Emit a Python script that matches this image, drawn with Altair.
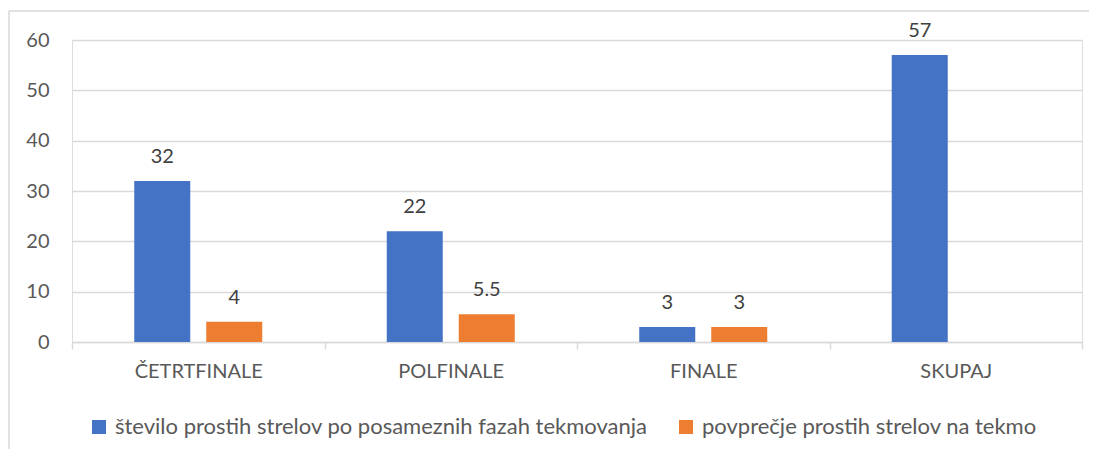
import altair as alt
import pandas as pd

categories = ["ČETRTFINALE", "POLFINALE", "FINALE", "SKUPAJ"]
series_names = [
    "število prostih strelov po posameznih fazah tekmovanja",
    "povprečje prostih strelov na tekmo",
]
series1 = [32, 22, 3, 57]
series2 = [4, 5.5, 3]
colors = ["#4472C4", "#ED7D31"]

rows = []
for c, v in zip(categories, series1):
    rows.append({"kat": c, "serija": series_names[0], "vrednost": v, "lbl": f"{v:g}"})
for c, v in zip(categories, series2):
    rows.append({"kat": c, "serija": series_names[1], "vrednost": v, "lbl": f"{v:g}"})
df = pd.DataFrame(rows)

FONT = "Lato"

x_enc = alt.X(
    "kat:N",
    sort=categories,
    title=None,
    scale=alt.Scale(paddingInner=0, paddingOuter=0),
    axis=alt.Axis(
        labelAngle=0,
        labelFont=FONT,
        labelFontSize=20,
        labelColor="#595959",
        labelPadding=12,
        domainColor="#D9D9D9",
        domainWidth=1.5,
        tickColor="#D9D9D9",
        tickWidth=1.5,
        tickSize=7,
        tickBand="extent",
        grid=False,
    ),
)
xoff = alt.XOffset(
    "serija:N",
    sort=series_names,
    scale=alt.Scale(paddingInner=0.2222, paddingOuter=0.8646),
)
y_enc = alt.Y(
    "vrednost:Q",
    title=None,
    scale=alt.Scale(domain=[0, 60]),
    axis=alt.Axis(
        values=[0, 10, 20, 30, 40, 50, 60],
        labelFont=FONT,
        labelFontSize=20,
        labelColor="#595959",
        labelPadding=23,
        tickSize=0,
        domain=False,
        gridColor="#D9D9D9",
        gridWidth=1.5,
    ),
)

bars = alt.Chart(df).mark_bar().encode(
    x=x_enc,
    xOffset=xoff,
    y=y_enc,
    color=alt.Color(
        "serija:N",
        sort=series_names,
        scale=alt.Scale(domain=series_names, range=colors),
        legend=alt.Legend(
            title=None,
            orient="none",
            legendX=16,
            legendY=376,
            direction="horizontal",
            symbolType="square",
            symbolSize=196,
            symbolStrokeWidth=0,
            labelFont=FONT,
            labelFontSize=22,
            labelColor="#595959",
            labelOffset=5,
            columnPadding=27,
            labelLimit=1000,
        ),
    ),
)

labels = alt.Chart(df).mark_text(
    baseline="alphabetic", dy=-18, font=FONT, fontSize=20, color="#404040"
).encode(
    x=alt.X("kat:N", sort=categories),
    xOffset=alt.XOffset("serija:N", sort=series_names),
    y="vrednost:Q",
    text="lbl:N",
)

border_top = alt.Chart(pd.DataFrame({"a": [0]})).mark_rule(
    color="#D9D9D9", strokeWidth=1.5
).encode(x=alt.value(-63), x2=alt.value(1017), y=alt.value(-29))
border_left = alt.Chart(pd.DataFrame({"a": [0]})).mark_rule(
    color="#D9D9D9", strokeWidth=1.5
).encode(x=alt.value(-63), y=alt.value(-29), y2=alt.value(409))

chart = (
    alt.layer(border_top, border_left, bars, labels)
    .properties(
        width=1010,
        height=302,
        autosize=alt.AutoSizeParams(type="none"),
        padding={"left": 64, "top": 32, "right": 7, "bottom": 107},
    )
    .configure_view(stroke=None)
    .configure(background="white")
)

chart.save("out.html", embed_options={"renderer": "svg", "actions": False})
